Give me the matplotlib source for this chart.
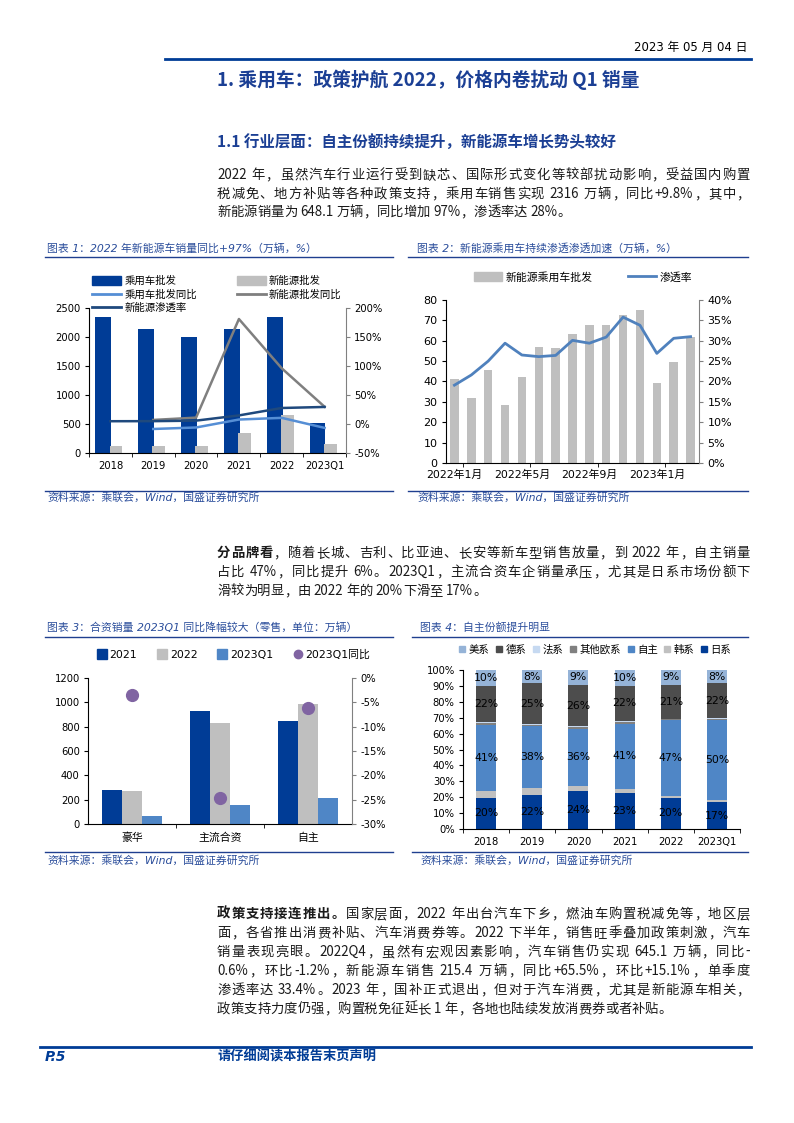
import re
import matplotlib
matplotlib.use('agg')
import matplotlib.pyplot as plt
from matplotlib.lines import Line2D
from matplotlib.patches import Patch
from matplotlib.ticker import FuncFormatter
import numpy as np

plt.rcParams['font.family'] = ['DejaVu Sans', 'Noto Sans CJK SC']
plt.rcParams['axes.unicode_minus'] = False

# ---------- data ----------
# chart 1: passenger car / NEV wholesale (万辆, %)
years = ['2018', '2019', '2020', '2021', '2022', '2023Q1']
pv_sales = [2344, 2136, 2003, 2136, 2344, 525]
nev_sales = [115, 115, 115, 340, 652, 150]
pv_yoy = [np.nan, -8.6, -6.0, 7.7, 10.6, -6.7]
nev_yoy = [np.nan, 7.0, 11.0, 181.0, 96.0, 29.7]
nev_pen = [4.8, 4.9, 5.8, 14.8, 27.6, 29.4]

# chart 2: monthly NEV wholesale and penetration
months = ['2022年1月', '2022年2月', '2022年3月', '2022年4月', '2022年5月', '2022年6月',
          '2022年7月', '2022年8月', '2022年9月', '2022年10月', '2022年11月', '2022年12月',
          '2023年1月', '2023年2月', '2023年3月']
nev_month = [41.2, 31.9, 45.7, 28.4, 42.2, 57.0, 56.5, 63.4, 67.8, 67.8, 72.8, 75.2, 39.3, 49.6, 61.9]
pen_month = [19.1, 21.6, 25.0, 29.4, 26.5, 26.1, 26.4, 30.1, 29.4, 30.9, 35.8, 33.8, 26.9, 30.6, 31.0]

# chart 3: retail by segment
segments = ['豪华', '主流合资', '自主']
retail_2021 = [280, 928, 848]
retail_2022 = [272, 827, 983]
retail_2023q1 = [66, 157, 217]
retail_yoy = [-3.4, -24.6, -6.2]

# chart 4: market share by brand origin (%), bottom to top
share_jp = [19.6, 21.6, 23.6, 22.6, 19.8, 16.8]
share_kr = [4.5, 4.5, 3.6, 2.5, 1.1, 1.6]
share_cn = [41.2, 38.4, 36.0, 41.2, 47.4, 50.2]
share_eu = [1.3, 0.9, 1.0, 1.2, 0.6, 0.6]
share_fr = [0.8, 0.8, 0.4, 0.3, 0.4, 0.3]
share_de = [22.4, 25.4, 26.0, 22.3, 21.4, 22.2]
share_us = [10.2, 8.4, 9.4, 9.9, 9.3, 8.3]
brand_names = ['日系', '韩系', '自主', '其他欧系', '法系', '德系', '美系']

# ---------- page ----------
W, H = 794, 1123
fig = plt.figure(figsize=(7.94, 11.23), dpi=100)
r = fig.canvas.get_renderer()

NAVY = '#003c96'
HEAD = '#1b3f94'
CAP = '#2a4d9b'
CJK = ['Noto Sans CJK SC']


def fx(x):
    return x / W


def fy(y):
    return 1 - y / H


def box(l, t, rr, b):
    return [l / W, 1 - b / H, (rr - l) / W, (b - t) / H]


def hline(x0, x1, y, lw, c):
    fig.add_artist(Line2D([fx(x0), fx(x1)], [fy(y), fy(y)], lw=lw, color=c))


def text_w(s, size, weight):
    t = fig.text(0, 0, s, fontsize=size, fontweight=weight, family=CJK)
    w = t.get_window_extent(r).width
    t.remove()
    return w


def body_line(parts, y, justify=True, x0=217, x1=750, size=9.6):
    # split into units: runs of latin chars stay together, CJK chars separate
    units = []
    for s, wt in parts:
        for u in re.findall(r'[A-Za-z0-9.+\-%]+|.', s):
            units.append((u, wt))
    ws = [text_w(u, size, wt) for u, wt in units]
    gap = (x1 - x0 - sum(ws)) / (len(units) - 1) if justify else 0
    x = x0
    for (u, wt), w in zip(units, ws):
        fig.text(fx(x), fy(y + 4), u, fontsize=size, fontweight=wt, family=CJK,
                 va='baseline', ha='left', color='#1a1a1a')
        x += w + gap


pct = FuncFormatter(lambda v, p: '%d%%' % round(v))

# header / footer
fig.text(fx(747), fy(47), '2023 年 05 月 04 日', fontsize=8.5, ha='right', va='center')
hline(165, 751, 59, 2, NAVY)
fig.text(fx(217), fy(80), '1. 乘用车：政策护航 2022，价格内卷扰动 Q1 销量', family=CJK,
         fontsize=13.5, fontweight='bold', color=HEAD, va='center')
fig.text(fx(217), fy(143), '1.1 行业层面：自主份额持续提升，新能源车增长势头较好', family=CJK,
         fontsize=11.2, fontweight='bold', color=HEAD, va='center')
hline(40, 751, 1047, 2, NAVY)
fig.text(fx(45), fy(1057), 'P.5', fontsize=10, fontweight='bold', style='italic', color=NAVY, va='center')
fig.text(fx(217), fy(1057), '请仔细阅读本报告末页声明', family=CJK, fontsize=9.5,
         fontweight='bold', color=NAVY, va='center')

# paragraphs
body_line([('2022 年，虽然汽车行业运行受到缺芯、国际形式变化等较部扰动影响，受益国内购置', 'normal')], 175)
body_line([('税减免、地方补贴等各种政策支持，乘用车销售实现 2316 万辆，同比+9.8%，其中，', 'normal')], 194)
body_line([('新能源销量为 648.1 万辆，同比增加 97%，渗透率达 28%。', 'normal')], 212, justify=False)

body_line([('分品牌看', 'bold'), ('，随着长城、吉利、比亚迪、长安等新车型销售放量，到 2022 年，自主销量', 'normal')], 553)
body_line([('占比 47%，同比提升 6%。2023Q1，主流合资车企销量承压，尤其是日系市场份额下', 'normal')], 572)
body_line([('滑较为明显，由 2022 年的 20%下滑至 17%。', 'normal')], 591, justify=False)

body_line([('政策支持接连推出。', 'bold'), ('国家层面，2022 年出台汽车下乡，燃油车购置税减免等，地区层', 'normal')], 914)
body_line([('面，各省推出消费补贴、汽车消费券等。2022 下半年，销售旺季叠加政策刺激，汽车', 'normal')], 933)
body_line([('销量表现亮眼。2022Q4，虽然有宏观因素影响，汽车销售仍实现 645.1 万辆，同比-', 'normal')], 952)
body_line([('0.6%，环比-1.2%，新能源车销售 215.4 万辆，同比+65.5%，环比+15.1%，单季度', 'normal')], 971)
body_line([('渗透率达 33.4%。2023 年，国补正式退出，但对于汽车消费，尤其是新能源车相关，', 'normal')], 990)
body_line([('政策支持力度仍强，购置税免征延长 1 年，各地也陆续发放消费券或者补贴。', 'normal')], 1009, justify=False)

# chart frames: titles, rules, sources
frames = [
    (45, 393, 47, 248, 257, 491, 497, '图表 1：2022 年新能源车销量同比+97%（万辆，%）'),
    (408, 748, 417, 248, 257, 491, 497, '图表 2：新能源乘用车持续渗透渗透加速（万辆，%）'),
    (45, 393, 47, 627, 637, 852, 860, '图表 3：合资销量 2023Q1 同比降幅较大（零售，单位：万辆）'),
    (412, 748, 420, 627, 637, 852, 860, '图表 4：自主份额提升明显'),
]
for x0, x1, tx, ty, ly, sy, st, title in frames:
    fig.text(fx(tx), fy(ty), title, fontsize=7.8, style='italic', color=CAP, va='center')
    hline(x0, x1, ly, 1, '#1f3f8f')
    hline(x0, x1, sy, 1, '#1f3f8f')
    fig.text(fx(tx), fy(st), '资料来源：乘联会，Wind，国盛证券研究所', fontsize=7.8,
             style='italic', color=CAP, va='center')


def style_axes(ax, twin=None, size=7.2):
    ax.spines['top'].set_visible(False)
    ax.spines['right'].set_visible(False)
    ax.tick_params(axis='y', length=3, labelsize=size, pad=3)
    if twin is not None:
        for s in ['top', 'left', 'bottom']:
            twin.spines[s].set_visible(False)
        twin.spines['right'].set_color('#808080')
        twin.tick_params(axis='y', length=3, labelsize=size, pad=3, color='#808080')


# ---------- chart 1 ----------
ax1 = fig.add_axes(box(89, 308, 346, 453))
x = np.arange(len(years))
ax1.bar(x - 0.165, pv_sales, 0.37, color=NAVY, zorder=2)
ax1.bar(x + 0.13, nev_sales, 0.30, color='#bfbfbf', zorder=2)
ax1.set_xlim(-0.5, 5.5)
ax1.set_ylim(0, 2500)
ax1.set_yticks(range(0, 2501, 500))
ax1.set_xticks(x)
ax1.set_xticklabels(years)
ax1.set_xticks(np.arange(-0.5, 6, 1), minor=True)
ax1.tick_params(axis='x', which='major', length=0, pad=6, labelsize=7.2)
ax1.tick_params(axis='x', which='minor', length=3)
ax1b = ax1.twinx()
ax1b.plot(x, pv_yoy, color='#558ed5', lw=1.8)
ax1b.plot(x, nev_yoy, color='#7f7f7f', lw=1.8)
ax1b.plot(x, nev_pen, color='#1f497d', lw=1.8)
ax1b.set_ylim(-50, 200)
ax1b.set_yticks(range(-50, 201, 50))
ax1b.yaxis.set_major_formatter(pct)
style_axes(ax1, ax1b)

h1 = [Patch(color=NAVY), Line2D([], [], color='#558ed5', lw=2), Line2D([], [], color='#1f497d', lw=2),
      Patch(color='#bfbfbf'), Line2D([], [], color='#7f7f7f', lw=2)]
fig.legend(h1, ['乘用车批发', '乘用车批发同比', '新能源渗透率', '新能源批发', '新能源批发同比'],
           ncol=2, loc='upper left', bbox_to_anchor=(fx(92), fy(276)), frameon=False,
           fontsize=7.5, handlelength=2.8, handleheight=0.9, handletextpad=0.3,
           columnspacing=3.8, labelspacing=0.3, borderpad=0, borderaxespad=0)

# ---------- chart 2 ----------
ax2 = fig.add_axes(box(446, 300, 699, 463))
xm = np.arange(len(months))
ax2.bar(xm, nev_month, 0.5, color='#bfbfbf', zorder=2)
ax2.set_xlim(-0.5, len(months) - 0.5)
ax2.set_ylim(0, 80)
ax2.set_yticks(range(0, 81, 10))
ax2.set_xticks(xm[::4])
ax2.set_xticklabels(months[::4])
ax2.set_xticks(np.arange(0.5, 15, 4), minor=True)
ax2.tick_params(axis='x', which='major', length=0, pad=5, labelsize=7.8)
ax2.tick_params(axis='x', which='minor', length=3)
ax2b = ax2.twinx()
ax2b.plot(xm, pen_month, color='#4f81bd', lw=2)
ax2b.set_ylim(0, 40)
ax2b.set_yticks(range(0, 41, 5))
ax2b.yaxis.set_major_formatter(pct)
style_axes(ax2, ax2b, size=8)
fig.legend([Patch(color='#bfbfbf'), Line2D([], [], color='#4f81bd', lw=2)], ['新能源乘用车批发', '渗透率'],
           ncol=2, loc='center', bbox_to_anchor=(fx(583), fy(277)), frameon=False,
           fontsize=7.8, handlelength=2.6, handleheight=0.9, handletextpad=0.3,
           columnspacing=3.3, borderpad=0, borderaxespad=0)

# ---------- chart 3 ----------
ax3 = fig.add_axes(box(88, 678, 352, 824))
xs = np.arange(len(segments))
ax3.bar(xs - 0.226, retail_2021, 0.226, color=NAVY, zorder=2)
ax3.bar(xs, retail_2022, 0.226, color='#bfbfbf', zorder=2)
ax3.bar(xs + 0.226, retail_2023q1, 0.226, color='#4f86c6', zorder=2)
ax3.set_xlim(-0.5, 2.5)
ax3.set_ylim(0, 1200)
ax3.set_yticks(range(0, 1201, 200))
ax3.set_xticks(xs)
ax3.set_xticklabels(segments)
ax3.set_xticks([0.5, 1.5], minor=True)
ax3.tick_params(axis='x', which='major', length=0, pad=6, labelsize=7.8)
ax3.tick_params(axis='x', which='minor', length=3)
ax3b = ax3.twinx()
ax3b.plot(xs, retail_yoy, 'o', color='#8064a2', ms=8.5)
ax3b.set_ylim(-30, 0)
ax3b.set_yticks(range(-30, 1, 5))
ax3b.yaxis.set_major_formatter(pct)
style_axes(ax3, ax3b)
h3 = [Line2D([], [], ls='none', marker='s', ms=6.5, color=NAVY),
      Line2D([], [], ls='none', marker='s', ms=6.5, color='#bfbfbf'),
      Line2D([], [], ls='none', marker='s', ms=6.5, color='#4f86c6'),
      Line2D([], [], ls='none', marker='o', ms=6, color='#8064a2')]
fig.legend(h3, ['2021', '2022', '2023Q1', '2023Q1同比'], ncol=4, loc='center',
           bbox_to_anchor=(fx(234), fy(655)), frameon=False, fontsize=7.8,
           handlelength=0.8, handletextpad=0.3, columnspacing=1.9, borderpad=0, borderaxespad=0)

# ---------- chart 4 ----------
ax4 = fig.add_axes(box(463, 670, 740, 829))
shares = [share_jp, share_kr, share_cn, share_eu, share_fr, share_de, share_us]
colors4 = [NAVY, '#c0c0c0', '#4f86c6', '#808080', '#c6d9f1', '#4d4d4d', '#95b3d7']
labelled = ['日系', '自主', '德系', '美系']
bottom = np.zeros(len(years))
for name, vals, c in zip(brand_names, shares, colors4):
    vals = np.array(vals)
    ax4.bar(x, vals, 0.43, bottom=bottom, color=c, label=name, zorder=2)
    if name in labelled:
        for xi, b, v in zip(x, bottom, vals):
            ax4.text(xi, b + v / 2, '%d%%' % round(v), ha='center', va='center', fontsize=7.8, zorder=3)
    bottom = bottom + vals
ax4.set_xlim(-0.5, 5.5)
ax4.set_ylim(0, 100)
ax4.set_yticks(range(0, 101, 10))
ax4.yaxis.set_major_formatter(pct)
ax4.set_xticks(x)
ax4.set_xticklabels(years)
ax4.set_xticks(np.arange(-0.5, 6, 1), minor=True)
ax4.tick_params(axis='x', which='major', length=0, pad=6, labelsize=7.2)
ax4.tick_params(axis='x', which='minor', length=3)
style_axes(ax4)
h4 = [Line2D([], [], ls='none', marker='s', ms=5, color=c) for c in colors4][::-1]
fig.legend(h4, brand_names[::-1], ncol=7, loc='center', bbox_to_anchor=(fx(595), fy(650)),
           frameon=False, fontsize=7.5, handlelength=0.7, handletextpad=0.25,
           columnspacing=0.6, borderpad=0, borderaxespad=0)

plt.savefig('out.png', dpi=100)
